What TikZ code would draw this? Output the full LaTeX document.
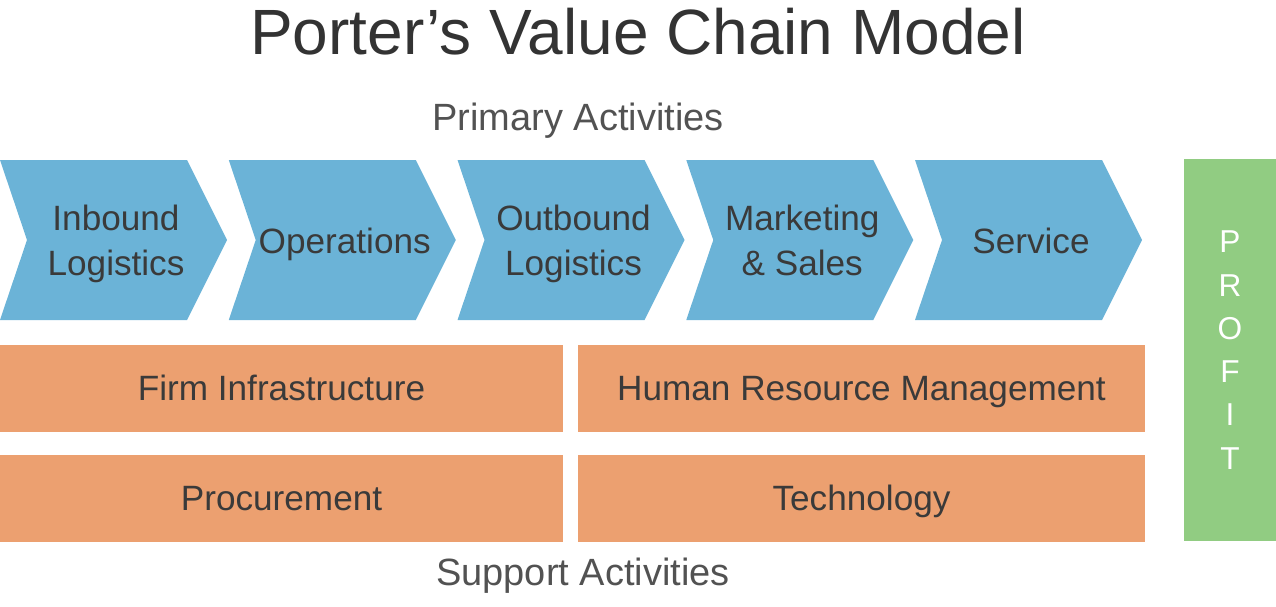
\documentclass[tikz,border=0pt]{standalone}
\usepackage{fontspec}
\setmainfont{Liberation Sans}
\usetikzlibrary{positioning}

\definecolor{chainblue}{RGB}{107,179,215}
\definecolor{supportorange}{RGB}{236,160,112}
\definecolor{profitgreen}{RGB}{145,204,130}
\definecolor{labelgray}{RGB}{58,58,58}

\begin{document}
\begin{tikzpicture}[
    x=0.01cm, y=-0.01cm,
    font=\fontsize{10}{12.8}\selectfont,
    chevtext/.style={align=center, text=labelgray, text depth=0.25em},
    supportbox/.style={fill=supportorange, text=labelgray, minimum height=0.87cm,
        inner sep=0pt, text height=0.82em, text depth=0.14em},
    heading/.style={text=black!68, font=\fontsize{10.8}{13}\selectfont}
]

\useasboundingbox (0,0) rectangle (1276,606);

% =========================================================================
% 1. TITLE AND PRIMARY ACTIVITIES
% =========================================================================
\node[text=black!80, font=\fontsize{18.2}{22}\selectfont] (title) at (638,32) {Porter's Value Chain Model};
\node[heading] (primary) at (578,121) {Primary Activities};

% Chevrons (left notch 27, tip 40)
\foreach \i/\name/\txt in {0/inbound/{Inbound\\Logistics},
                           1/operations/{Operations},
                           2/outbound/{Outbound\\Logistics},
                           3/marketing/{Marketing\\\& Sales},
                           4/service/{Service}} {
    \fill[chainblue] ({228.75*\i},160) -- ++(187,0) -- ++(40,80) -- ++(-40,80)
        -- ++(-187,0) -- ++(27,-80) -- cycle;
    \node[chevtext] (\name) at ({228.75*\i+116},245) {\txt};
}

% =========================================================================
% 2. SUPPORT ACTIVITIES
% =========================================================================
\node[supportbox, minimum width=5.63cm] (infra) at (281.5,388.5) {Firm Infrastructure};
\node[supportbox, minimum width=5.67cm] (hrm)   at (861.5,388.5) {Human Resource Management};
\node[supportbox, minimum width=5.63cm] (procure) at (281.5,498.5) {Procurement};
\node[supportbox, minimum width=5.67cm] (tech)  at (861.5,498.5) {Technology};

\node[heading] (support) at (583,576) {Support Activities};

% =========================================================================
% 3. PROFIT MARGIN
% =========================================================================
\node[fill=profitgreen, text=white, minimum width=0.92cm, minimum height=3.82cm,
      align=center, font=\fontsize{9}{12.3}\selectfont] (profit) at (1230,350)
      {P\\R\\O\\F\\I\\T};

\end{tikzpicture}
\end{document}
